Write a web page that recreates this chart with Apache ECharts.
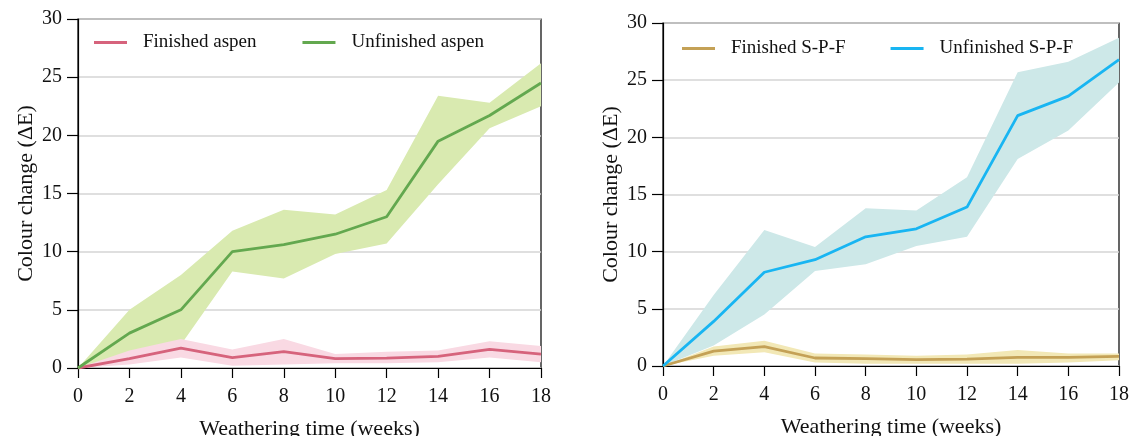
<!DOCTYPE html>
<html><head><meta charset="utf-8">
<script src="https://cdn.jsdelivr.net/npm/echarts@6/dist/echarts.min.js"></script>
<style>html,body{margin:0;padding:0;background:#fff}#c{width:1131px;height:436px}</style>
</head><body><div id="c"></div>
<script>
const weeks = [0, 2, 4, 6, 8, 10, 12, 14, 16, 18];
// Left panel: aspen
const finAspen      = [0, 0.8, 1.7, 0.9, 1.4, 0.8, 0.85, 1.0, 1.6, 1.2];
const finAspenHi    = [0, 1.5, 2.5, 1.6, 2.5, 1.2, 1.4, 1.5, 2.3, 1.9];
const finAspenLo    = [0, 0.3, 0.9, 0.2, 0.3, 0.4, 0.4, 0.5, 0.9, 0.5];
const unfAspen      = [0, 3.0, 5.0, 10.0, 10.6, 11.5, 13.0, 19.5, 21.7, 24.5];
const unfAspenHi    = [0, 5.0, 8.0, 11.8, 13.6, 13.2, 15.3, 23.4, 22.8, 26.2];
const unfAspenLo    = [0, 1.0, 2.0, 8.3, 7.7, 9.8, 10.7, 15.8, 20.6, 22.5];
// Right panel: S-P-F
const finSPF        = [0, 1.3, 1.7, 0.7, 0.65, 0.55, 0.6, 0.75, 0.75, 0.85];
const finSPFHi      = [0, 1.7, 2.2, 1.1, 1.0, 0.9, 1.0, 1.4, 1.1, 1.1];
const finSPFLo      = [0, 0.9, 1.2, 0.3, 0.2, 0.2, 0.2, 0.2, 0.3, 0.5];
const unfSPF        = [0, 3.9, 8.2, 9.3, 11.3, 12.0, 13.9, 21.9, 23.6, 26.8];
const unfSPFHi      = [0, 6.2, 11.9, 10.4, 13.8, 13.6, 16.5, 25.7, 26.6, 28.7];
const unfSPFLo      = [0, 1.8, 4.5, 8.3, 8.9, 10.5, 11.3, 18.1, 20.6, 24.8];
const xTitle = 'Weathering time (weeks)';
const yTitle = 'Colour change (ΔE)';

const FONT = '"Liberation Serif", "Times New Roman", serif';
const pairs = a => weeks.map((w, i) => [w, a[i]]);

function band(idx, lo, hi, color) {
  const data = weeks.map((w, i) => [w, lo[i], hi[i]]);
  return {
    type: 'custom', xAxisIndex: idx, yAxisIndex: idx, silent: true, z: 1,
    data: data,
    encode: {x: 0, y: [1, 2]},
    renderItem: function (params, api) {
      if (params.dataIndex !== 0) return null;
      const top = [], bot = [];
      for (let i = 0; i < data.length; i++) {
        top.push(api.coord([data[i][0], data[i][2]]));
        bot.push(api.coord([data[i][0], data[i][1]]));
      }
      const pts = top.concat(bot.reverse());
      return {type: 'polygon', shape: {points: pts}, style: {fill: color}};
    }
  };
}
function line(idx, name, d, color) {
  return {type: 'line', name: name, xAxisIndex: idx, yAxisIndex: idx, data: pairs(d),
          symbol: 'none', lineStyle: {color: color, width: 2.8}, itemStyle: {color: color}, z: 3};
}
function xAx(idx) {
  return {type: 'value', gridIndex: idx, min: 0, max: 18, interval: 2,
    name: xTitle, nameLocation: 'middle', nameGap: 50,
    nameTextStyle: {fontFamily: FONT, fontSize: 22, color: '#111'},
    axisLine: {lineStyle: {color: '#000', width: 1.2}},
    axisTick: {show: true, length: 10, lineStyle: {color: '#000', width: 1.2}},
    axisLabel: {fontFamily: FONT, fontSize: 20, color: '#111', margin: 19},
    splitLine: {show: false}};
}
function yAx(idx) {
  return {type: 'value', gridIndex: idx, min: 0, max: 30, interval: 5,
    name: yTitle, nameLocation: 'middle', nameGap: 41,
    nameTextStyle: {fontFamily: FONT, fontSize: 22, color: '#111'},
    axisLine: {show: true, lineStyle: {color: '#000', width: 1.2}},
    axisTick: {show: true, length: 11, lineStyle: {color: '#000', width: 1.2}},
    axisLabel: {fontFamily: FONT, fontSize: 20, color: '#111', margin: 16},
    splitLine: {show: true, lineStyle: {color: '#d4d4d4', width: 1.5}}};
}
const legendText = {fontFamily: FONT, fontSize: 19, color: '#111', padding: [0, 0, 0, 11]};

const option = {
  animation: false,
  grid: [
    {left: 78, right: 590, top: 19, bottom: 68, show: true, borderColor: '#000', borderWidth: 1.2,
     containLabel: false, outerBoundsMode: 'none'},
    {left: 663, right: 12, top: 23, bottom: 70, show: true, borderColor: '#000', borderWidth: 1.2,
     containLabel: false, outerBoundsMode: 'none'}
  ],
  legend: [
    {data: ['Finished aspen', 'Unfinished aspen'], left: 94, top: 33, padding: 0, icon: 'rect',
     itemWidth: 33, itemHeight: 3, itemGap: 46, textStyle: legendText},
    {data: ['Finished S-P-F', 'Unfinished S-P-F'], left: 682, top: 39, padding: 0, icon: 'rect',
     itemWidth: 33, itemHeight: 3, itemGap: 45, textStyle: legendText}
  ],
  xAxis: [xAx(0), xAx(1)],
  yAxis: [yAx(0), yAx(1)],
  series: [
    band(0, unfAspenLo, unfAspenHi, '#d9eab0'),
    band(0, finAspenLo, finAspenHi, '#f9d9e3'),
    line(0, 'Finished aspen', finAspen, '#d6637c'),
    line(0, 'Unfinished aspen', unfAspen, '#63a84f'),
    band(1, unfSPFLo, unfSPFHi, '#cde8e8'),
    band(1, finSPFLo, finSPFHi, '#f2e8b6'),
    line(1, 'Finished S-P-F', finSPF, '#c4a156'),
    line(1, 'Unfinished S-P-F', unfSPF, '#18b5f2')
  ]
};
echarts.init(document.getElementById('c'), null, {renderer: 'canvas'}).setOption(option);
</script></body></html>
